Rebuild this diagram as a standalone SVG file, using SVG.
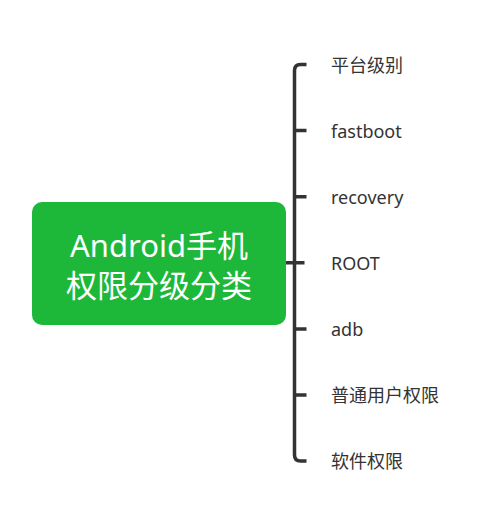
<svg xmlns="http://www.w3.org/2000/svg" width="500" height="527" viewBox="0 0 500 527">
<style>
.lbl{font-family:"Noto Sans","Noto Sans CJK SC",sans-serif;font-size:18px;fill:#333;dominant-baseline:central}
.main{font-family:"Noto Sans","Noto Sans CJK SC",sans-serif;font-size:31px;fill:#fff;text-anchor:middle;dominant-baseline:central}
.ln{fill:none;stroke:#333;stroke-width:3.5;stroke-linecap:butt}
</style>
<rect width="500" height="527" fill="#fff"/>
<g id="connectors">
<path class="ln" d="M306.5,64.5 H300.5 Q294.5,64.5 294.5,70.5 V455.1 Q294.5,461.1 300.5,461.1 H306.5"/>
<path class="ln" d="M294.5,130.6 H306.5 M294.5,196.7 H306.5 M285.5,262.8 H304.5 M294.5,328.9 H306.5 M294.5,395 H306.5"/>
</g>
<g id="root">
<rect x="32" y="202" width="254" height="123" rx="10" fill="#1DB83A"/>
<text class="main" x="159" y="245">Android手机</text>
<text class="main" x="159" y="285">权限分级分类</text>
</g>
<g id="n1"><text class="lbl" x="331" y="64.5">平台级别</text></g>
<g id="n2"><text class="lbl" x="331" y="130.6">fastboot</text></g>
<g id="n3"><text class="lbl" x="331" y="196.7">recovery</text></g>
<g id="n4"><text class="lbl" x="331" y="262.8">ROOT</text></g>
<g id="n5"><text class="lbl" x="331" y="328.9">adb</text></g>
<g id="n6"><text class="lbl" x="331" y="395">普通用户权限</text></g>
<g id="n7"><text class="lbl" x="331" y="461.1">软件权限</text></g>
</svg>
